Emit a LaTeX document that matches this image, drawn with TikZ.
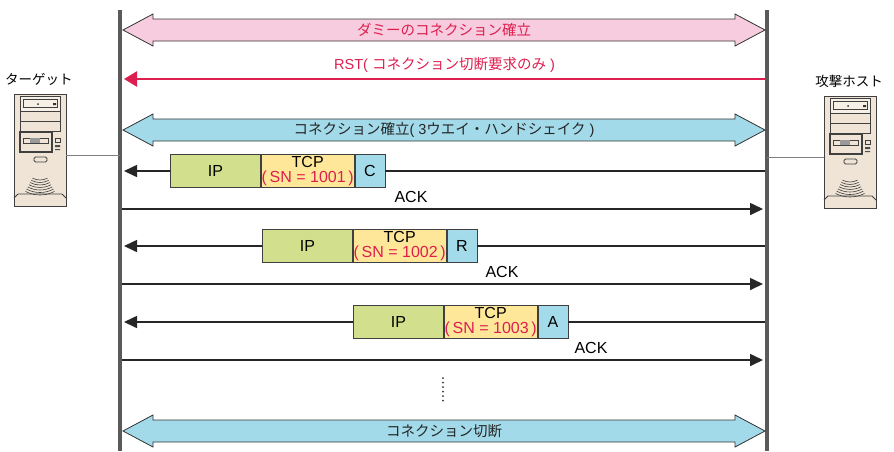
\documentclass[tikz,border=0pt]{standalone}
\usepackage{fontspec}
\setmainfont{Liberation Sans}
\newfontfamily\jpfont{Noto Sans CJK JP}
\usetikzlibrary{positioning,arrows.meta}

\definecolor{bargray}{HTML}{5A5A5A}
\definecolor{rstred}{HTML}{DC1F4F}
\definecolor{pinkband}{HTML}{F8CCDF}
\definecolor{blueband}{HTML}{A2DAEA}
\definecolor{ipgreen}{HTML}{D2E08E}
\definecolor{tcpyellow}{HTML}{FFE79A}
\definecolor{flagblue}{HTML}{A4DBEA}
\definecolor{pcbeige}{HTML}{EFE4D5}

\newcommand\ja[1]{{\jpfont #1}}
% wide double-headed band between the two lifelines
\newcommand\band[5]{%
  \draw[bandline, fill=#3] (123,#2) -- (153,#2-16) -- (153,#2-11) -- (735,#2-11)
    -- (735,#2-16) -- (765,#2) -- (735,#2+16) -- (735,#2+11) -- (153,#2+11)
    -- (153,#2+16) -- cycle;
  \node[bandtxt, text=#4] (#1) at (444,#2) {#5};}

\tikzset{
  every node/.style={inner sep=0pt},
  latin/.style={font=\fontsize{16}{15}\selectfont},
  jplbl/.style={font=\jpfont\fontsize{13.5}{15}\selectfont},
  bandtxt/.style={font=\fontsize{14.5}{15}\selectfont},
  lifeline/.style={draw=bargray, line width=4pt},
  msg/.style={draw=black!85, line width=1.6pt},
  tip/.style={-{Triangle[length=13pt,width=12pt]}},
  rst/.style={draw=rstred, line width=2.4pt, -{Triangle[length=13pt,width=15pt]}},
  bandline/.style={draw=black!80, line width=0.8pt},
  hdr/.style={draw=black!75, line width=0.8pt, minimum height=33pt, latin},
  ipbox/.style={hdr, fill=ipgreen, minimum width=90pt, anchor=west},
  tcpbox/.style={hdr, fill=tcpyellow, minimum width=93pt, align=center},
  flagbox/.style={hdr, fill=flagblue, minimum width=30pt},
  wire/.style={draw=gray, line width=1pt},
  pcline/.style={draw=black!75, line width=0.8pt},
  tower/.pic={
    \draw[pcline, fill=pcbeige] (0,0) rectangle (52,112);
    \draw[pcline] (0,104) -- (4,100) -- (48,100) -- (52,104);
    \draw[pcline, fill=pcbeige!60!white] (6,2) rectangle (46,17);
    \draw[pcline] (9,5) rectangle (43,13);
    \fill[black!80] (24,10) circle (1) (39,9) rectangle (42,11);
    \draw[pcline] (6,17) rectangle (46,27) (6,27) rectangle (46,37);
    \draw[pcline, line width=1.2pt, fill=pcbeige] (6,38) rectangle (38,58);
    \draw[pcline] (9,44) rectangle (34,49);
    \fill[black!40] (16,44) rectangle (26,49);
    \draw[pcline] (41,44) rectangle (46,48);
    \fill[black!70] (41,51) rectangle (46,53) (41,55) rectangle (46,56);
    \draw[pcline, rounded corners=1.5] (20,63) rectangle (33,68);
    \foreach \r in {16,18.5,...,31}
      \draw[pcline, line width=0.6pt] (26,70) ++(62:\r) arc (62:118:\r);
    \coordinate (-pr) at (52,61);
    \coordinate (-pl) at (0,61);
  }
}

\begin{document}
\begin{tikzpicture}[x=1pt,y=-1pt]
  \useasboundingbox (0,0) rectangle (894,451);
  \coordinate (lbar) at (120,10);
  \coordinate (rbar) at (767,10);
  \draw[lifeline] (lbar) -- (120,451);
  \draw[lifeline] (rbar) -- (767,451);

  \pic (tgt) at (14,94) {tower};
  \pic (atk) at (824,96) {tower};
  \node[jplbl] (tgtname) at (39,79) {ターゲット};
  \node[jplbl] (atkname) at (849,81) {攻撃ホスト};
  \draw[wire] (tgt-pr) -- (tgt-pr -| lbar);
  \draw[wire] (atk-pl) -- (atk-pl -| rbar);

  \band{dummy}{30}{pinkband}{rstred}{\ja{ダミーのコネクション確立}}
  \coordinate (rstR) at (765,79);
  \coordinate (rstL) at (124,79);
  \draw[rst] (rstR) -- (rstL)
    node[midway, above=5pt, bandtxt, text=rstred] (rstlbl) {RST( \ja{コネクション切断要求のみ} )};
  \band{hshake}{130}{blueband}{black!85}{\ja{コネクション確立}( 3\ja{ウエイ・ハンドシェイク} )}

  \foreach \i/\y/\x/\flag/\ax in {1/171/170/C/411, 2/246/262/R/502, 3/322/353/A/591}{
    \node[ipbox] (ip\i) at (\x,\y) {IP};
    \node[tcpbox, right=0pt of ip\i] (tcp\i) {TCP\\\textcolor{rstred}{(\,SN = 100\i\,)}};
    \node[flagbox, right=0pt of tcp\i] (fl\i) {\flag};
    \coordinate (rx\i) at (765,\y);
    \coordinate (lx\i) at (124,\y);
    \draw[msg] (rx\i) -- (fl\i);
    \draw[msg, tip] (ip\i) -- (lx\i);
    \coordinate (al\i) at (122,\y+38);
    \coordinate (ar\i) at (763,\y+38);
    \draw[msg, tip] (al\i) -- (ar\i);
    \node[latin, anchor=base] (ack\i) at (\ax,\y+31) {ACK};
  }

  \draw[black!80, line width=2pt, line cap=round, dash pattern=on 0pt off 4.5pt] (443,378) -- (443,405);
  \band{close}{431}{blueband}{black!85}{\ja{コネクション切断}}
\end{tikzpicture}
\end{document}
